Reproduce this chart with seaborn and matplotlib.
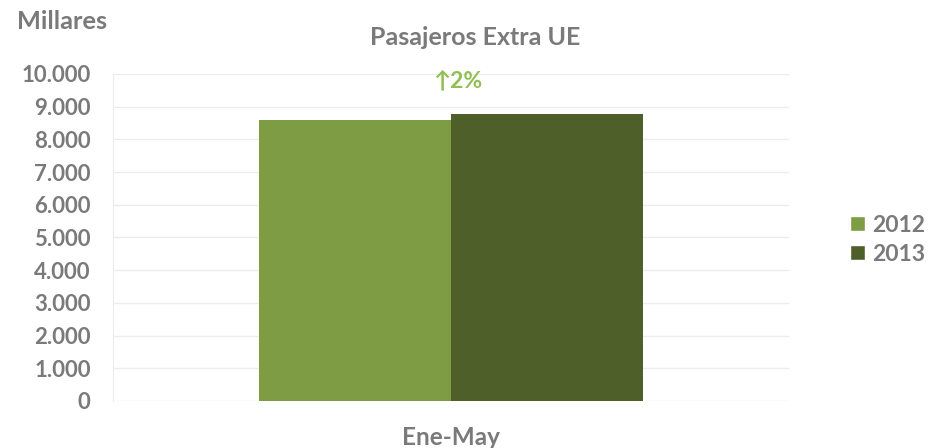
import pandas as pd
import seaborn as sns
import matplotlib.pyplot as plt
from matplotlib.ticker import FuncFormatter, MultipleLocator
from matplotlib.patches import Patch

# Data (miles de pasajeros)
periodo = ["Ene-May"]
anios = ["2012", "2013"]
pasajeros_2012 = [8590]
pasajeros_2013 = [8780]
variacion = "2%"

df = pd.DataFrame({
    "periodo": periodo * 2,
    "anio": [anios[0]] * len(periodo) + [anios[1]] * len(periodo),
    "valor": pasajeros_2012 + pasajeros_2013,
})

colores = {"2012": "#7e9c44", "2013": "#4e5f2a"}
gris = "#7a7a7a"

sns.set_style("white")
plt.rcParams['font.family'] = ['Lato', 'DejaVu Sans']

fig = plt.figure(figsize=(9.33, 4.48), dpi=100)
ax = fig.add_axes([0.121, 0.105, 0.725, 0.730])

sns.barplot(data=df, x="periodo", y="valor", hue="anio", palette=colores,
            width=0.567, saturation=1, linewidth=0, legend=False, ax=ax)

ax.set_ylim(0, 10000)
ax.set_xlim(-0.5, 0.5)
ax.yaxis.set_major_locator(MultipleLocator(1000))
ax.yaxis.set_major_formatter(FuncFormatter(lambda v, p: f"{int(v):,}".replace(",", ".")))
ax.grid(axis="y", color="#ececec", linewidth=1)
ax.set_axisbelow(True)
for s in ["top", "right", "bottom"]:
    ax.spines[s].set_visible(False)
ax.spines["left"].set_color("#ececec")

ax.tick_params(axis="y", length=0, pad=16, labelsize=16, labelcolor=gris)
ax.tick_params(axis="x", length=0, pad=18, labelsize=17.5, labelcolor=gris)
for t in ax.get_yticklabels() + ax.get_xticklabels():
    t.set_fontweight("bold")
ax.set_xlabel("")
ax.set_ylabel("")

# variation label
ax.text(0.01, 9780, "↑" + variacion, ha="center", va="center", fontsize=16.5,
        color="#92bf55", fontweight="bold")

fig.text(0.018, 0.953, "Millares", fontsize=18.3, color=gris, fontweight="bold", va="center")
fig.text(0.509, 0.916, "Pasajeros Extra UE", fontsize=18, color=gris,
         fontweight="bold", ha="center", va="center")

handles = [Patch(facecolor=colores[a], label=a) for a in anios]
leg = fig.legend(handles=handles, loc="center left", bbox_to_anchor=(0.911, 0.465),
                 frameon=False, borderpad=0, borderaxespad=0,
                 handlelength=0.65, handleheight=0.65,
                 handletextpad=0.3, labelspacing=0.35, fontsize=16.5)
for t in leg.get_texts():
    t.set_color(gris)
    t.set_fontweight("bold")

fig.savefig("out.png", dpi=100)
